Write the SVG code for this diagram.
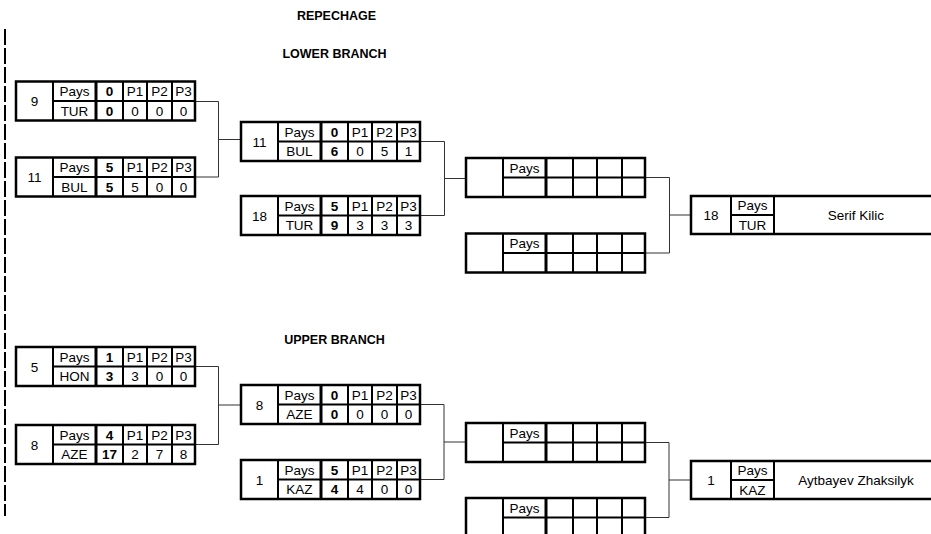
<svg xmlns="http://www.w3.org/2000/svg" xmlns:xlink="http://www.w3.org/1999/xlink" width="931" height="534" viewBox="0 0 931 534">
<style>
.bx{fill:#fff;stroke:#000;stroke-width:2.5}
.ln{stroke:#000;stroke-width:2;fill:none}
.lk{stroke:#000;stroke-width:3;fill:none}
.t{font-family:"Liberation Sans",Arial,sans-serif;font-size:13.5px;text-anchor:middle;fill:#000}
.b{font-weight:bold}
.ti{font-family:"Liberation Sans",Arial,sans-serif;font-size:12.5px;font-weight:bold;text-anchor:middle;fill:#000}
.cn{stroke:#333;stroke-width:1;fill:none}
</style>
<defs>
<g id="grid">
<rect class="bx" x="0" y="0" width="179" height="39"/>
<line class="ln" x1="37" y1="0" x2="37" y2="39"/>
<line class="lk" x1="80" y1="0" x2="80" y2="39"/>
<line class="ln" x1="107" y1="0" x2="107" y2="39"/>
<line class="ln" x1="131" y1="0" x2="131" y2="39"/>
<line class="ln" x1="156" y1="0" x2="156" y2="39"/>
<line class="ln" x1="37" y1="19.5" x2="179" y2="19.5"/>
</g>
<g id="fgrid">
<rect class="bx" x="0" y="0" width="260" height="38"/>
<line class="ln" x1="40" y1="0" x2="40" y2="38"/>
<line class="ln" x1="83" y1="0" x2="83" y2="38"/>
<line class="ln" x1="40" y1="19" x2="83" y2="19"/>
</g>
</defs>

<line x1="5" y1="29" x2="5" y2="516" stroke="#000" stroke-width="2" stroke-dasharray="16 3"/>

<text class="ti" x="336.5" y="20">REPECHAGE</text>
<text class="ti" x="334.5" y="57.5">LOWER BRANCH</text>
<text class="ti" x="334.5" y="344">UPPER BRANCH</text>

<g id="connectors">
<path class="cn" d="M195 101.5 H218.5 V177 H195 M218.5 139.5 H241"/>
<path class="cn" d="M420 141.5 H444.5 V215.5 H420 M444.5 178.5 H466"/>
<path class="cn" d="M645 177.5 H669.5 V253 H645 M669.5 215 H691"/>
<path class="cn" d="M195 366.5 H218.5 V444.5 H195 M218.5 405 H241"/>
<path class="cn" d="M420 404.5 H444 V479.5 H420 M444 442 H466"/>
<path class="cn" d="M645 442.5 H669 V517.5 H645 M669 480 H691"/>
</g>

<g id="a1" transform="translate(16,81.5)">
<use xlink:href="#grid"/>
<text class="t" x="18.5" y="24.5">9</text>
<text class="t" x="58.5" y="14.5">Pays</text><text class="t" x="58.5" y="34">TUR</text>
<text class="t b" x="93.5" y="14.5">0</text><text class="t b" x="93.5" y="34">0</text>
<text class="t" x="119" y="14.5">P1</text><text class="t" x="143.5" y="14.5">P2</text><text class="t" x="167.5" y="14.5">P3</text>
<text class="t" x="119" y="34">0</text><text class="t" x="143.5" y="34">0</text><text class="t" x="167.5" y="34">0</text>
</g>

<g id="a2" transform="translate(16,157.5)">
<use xlink:href="#grid"/>
<text class="t" x="18.5" y="24.5">11</text>
<text class="t" x="58.5" y="14.5">Pays</text><text class="t" x="58.5" y="34">BUL</text>
<text class="t b" x="93.5" y="14.5">5</text><text class="t b" x="93.5" y="34">5</text>
<text class="t" x="119" y="14.5">P1</text><text class="t" x="143.5" y="14.5">P2</text><text class="t" x="167.5" y="14.5">P3</text>
<text class="t" x="119" y="34">5</text><text class="t" x="143.5" y="34">0</text><text class="t" x="167.5" y="34">0</text>
</g>

<g id="a3" transform="translate(241,122)">
<use xlink:href="#grid"/>
<text class="t" x="18.5" y="24.5">11</text>
<text class="t" x="58.5" y="14.5">Pays</text><text class="t" x="58.5" y="34">BUL</text>
<text class="t b" x="93.5" y="14.5">0</text><text class="t b" x="93.5" y="34">6</text>
<text class="t" x="119" y="14.5">P1</text><text class="t" x="143.5" y="14.5">P2</text><text class="t" x="167.5" y="14.5">P3</text>
<text class="t" x="119" y="34">0</text><text class="t" x="143.5" y="34">5</text><text class="t" x="167.5" y="34">1</text>
</g>

<g id="a4" transform="translate(241,196)">
<use xlink:href="#grid"/>
<text class="t" x="18.5" y="24.5">18</text>
<text class="t" x="58.5" y="14.5">Pays</text><text class="t" x="58.5" y="34">TUR</text>
<text class="t b" x="93.5" y="14.5">5</text><text class="t b" x="93.5" y="34">9</text>
<text class="t" x="119" y="14.5">P1</text><text class="t" x="143.5" y="14.5">P2</text><text class="t" x="167.5" y="14.5">P3</text>
<text class="t" x="119" y="34">3</text><text class="t" x="143.5" y="34">3</text><text class="t" x="167.5" y="34">3</text>
</g>

<g id="e1" transform="translate(466,158)">
<use xlink:href="#grid"/>
<text class="t" x="58.5" y="14.5">Pays</text>
</g>

<g id="e2" transform="translate(466,233.5)">
<use xlink:href="#grid"/>
<text class="t" x="58.5" y="14.5">Pays</text>
</g>

<g id="f1" transform="translate(691,196)">
<use xlink:href="#fgrid"/>
<text class="t" x="20" y="24">18</text>
<text class="t" x="61.5" y="14.2">Pays</text><text class="t" x="61.5" y="33.5">TUR</text>
<text class="t" x="165" y="24">Serif Kilic</text>
</g>

<g id="b1" transform="translate(16,347)">
<use xlink:href="#grid"/>
<text class="t" x="18.5" y="24.5">5</text>
<text class="t" x="58.5" y="14.5">Pays</text><text class="t" x="58.5" y="34">HON</text>
<text class="t b" x="93.5" y="14.5">1</text><text class="t b" x="93.5" y="34">3</text>
<text class="t" x="119" y="14.5">P1</text><text class="t" x="143.5" y="14.5">P2</text><text class="t" x="167.5" y="14.5">P3</text>
<text class="t" x="119" y="34">3</text><text class="t" x="143.5" y="34">0</text><text class="t" x="167.5" y="34">0</text>
</g>

<g id="b2" transform="translate(16,425)">
<use xlink:href="#grid"/>
<text class="t" x="18.5" y="24.5">8</text>
<text class="t" x="58.5" y="14.5">Pays</text><text class="t" x="58.5" y="34">AZE</text>
<text class="t b" x="93.5" y="14.5">4</text><text class="t b" x="93.5" y="34">17</text>
<text class="t" x="119" y="14.5">P1</text><text class="t" x="143.5" y="14.5">P2</text><text class="t" x="167.5" y="14.5">P3</text>
<text class="t" x="119" y="34">2</text><text class="t" x="143.5" y="34">7</text><text class="t" x="167.5" y="34">8</text>
</g>

<g id="b3" transform="translate(241,385)">
<use xlink:href="#grid"/>
<text class="t" x="18.5" y="24.5">8</text>
<text class="t" x="58.5" y="14.5">Pays</text><text class="t" x="58.5" y="34">AZE</text>
<text class="t b" x="93.5" y="14.5">0</text><text class="t b" x="93.5" y="34">0</text>
<text class="t" x="119" y="14.5">P1</text><text class="t" x="143.5" y="14.5">P2</text><text class="t" x="167.5" y="14.5">P3</text>
<text class="t" x="119" y="34">0</text><text class="t" x="143.5" y="34">0</text><text class="t" x="167.5" y="34">0</text>
</g>

<g id="b4" transform="translate(241,460)">
<use xlink:href="#grid"/>
<text class="t" x="18.5" y="24.5">1</text>
<text class="t" x="58.5" y="14.5">Pays</text><text class="t" x="58.5" y="34">KAZ</text>
<text class="t b" x="93.5" y="14.5">5</text><text class="t b" x="93.5" y="34">4</text>
<text class="t" x="119" y="14.5">P1</text><text class="t" x="143.5" y="14.5">P2</text><text class="t" x="167.5" y="14.5">P3</text>
<text class="t" x="119" y="34">4</text><text class="t" x="143.5" y="34">0</text><text class="t" x="167.5" y="34">0</text>
</g>

<g id="e3" transform="translate(466,423)">
<use xlink:href="#grid"/>
<text class="t" x="58.5" y="14.5">Pays</text>
</g>

<g id="e4" transform="translate(466,498)">
<use xlink:href="#grid"/>
<text class="t" x="58.5" y="14.5">Pays</text>
</g>

<g id="f2" transform="translate(691,461)">
<use xlink:href="#fgrid"/>
<text class="t" x="20" y="24">1</text>
<text class="t" x="61.5" y="14.2">Pays</text><text class="t" x="61.5" y="33.5">KAZ</text>
<text class="t" x="165" y="24">Aytbayev Zhaksilyk</text>
</g>
</svg>
